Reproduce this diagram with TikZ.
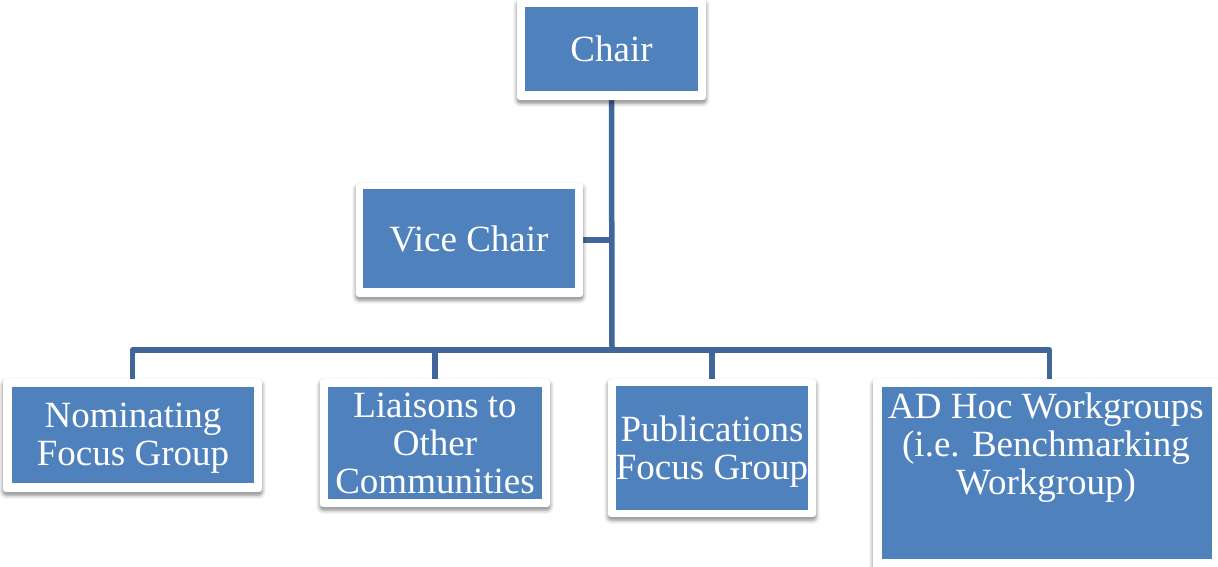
\documentclass[tikz,border=0pt]{standalone}
\usepackage{fontspec}
\setmainfont{Liberation Serif}
\usetikzlibrary{shadows.blur}
\pgfdeclarelayer{bg}
\pgfsetlayers{bg,main}
\definecolor{boxblue}{HTML}{4F81BD}
\definecolor{connblue}{HTML}{41679A}
\newcommand\boxfont{\fontsize{37}{38}\selectfont}
\tikzset{
  outerbox/.style={draw=none, fill=white, rounded corners=3pt, inner sep=0pt,
    blur shadow={shadow xshift=0pt, shadow yshift=-3pt, shadow blur radius=4pt, shadow opacity=50}},
  innerbox/.style={fill=boxblue, inner sep=0pt},
  boxtext/.style={inner sep=0pt, text=white, align=center, font=\boxfont},
  conn/.style={draw=connblue, line width=5.5pt, line join=round}
}
\begin{document}
\begin{tikzpicture}[x=1pt, y=-1pt]
\useasboundingbox (0,0) rectangle (1218,566);
\begin{scope}
\clip (0,0) rectangle (1218,566);
\coordinate (bus) at (612,350);
% outer white boxes
\node[outerbox, minimum width=189pt, minimum height=101pt] (chair) at (611.5,49.5) {};
\node[outerbox, minimum width=227pt, minimum height=114pt] (vice) at (469.5,240) {};
\node[outerbox, minimum width=259pt, minimum height=113pt] (nom) at (132.5,435.5) {};
\node[outerbox, minimum width=230pt, minimum height=128pt] (lia) at (435,443) {};
\node[outerbox, minimum width=208pt, minimum height=138pt] (pub) at (712,448) {};
\node[outerbox, minimum width=353pt, minimum height=193pt] (adh) at (1049.5,475.5) {};
% connectors behind the boxes
\begin{pgfonlayer}{bg}
\draw[conn] (chair.south) -- (bus);
\draw[conn] (vice.east) -- (vice.east -| bus);
\draw[conn] (nom.north) |- (bus) -| (adh.north);
\draw[conn] (lia.north) -- (lia.north |- bus);
\draw[conn] (pub.north) -- (pub.north |- bus);
\end{pgfonlayer}
% inner blue boxes
\node[innerbox, minimum width=173pt, minimum height=84pt] (chairb) at (611.5,49) {};
\node[innerbox, minimum width=212pt, minimum height=99pt] (viceb) at (469,238.5) {};
\node[innerbox, minimum width=242pt, minimum height=96pt] (nomb) at (133,435) {};
\node[innerbox, minimum width=214pt, minimum height=112pt] (liab) at (435,443) {};
\node[innerbox, minimum width=192pt, minimum height=124pt] (pubb) at (712,448) {};
\node[innerbox, minimum width=330pt, minimum height=172pt] (adhb) at (1047,473) {};
% texts
\node[boxtext] (chairt) at (chairb.center) {Chair};
\node[boxtext] (vicet) at (viceb.center) {Vice Chair};
\node[boxtext, yshift=-3pt] (nomt) at (nomb.center) {Nominating\\Focus Group};
\node[boxtext] (liat) at (liab.center) {Liaisons to\\Other\\Communities};
\node[boxtext, yshift=-4pt] (pubt) at (pubb.center) {Publications\\Focus Group};
\node[boxtext, anchor=north] (adht) at (1046,393)
  {AD Hoc Workgroups\\(i.e. Benchmarking\\Workgroup)};
\end{scope}
\end{tikzpicture}
\end{document}
